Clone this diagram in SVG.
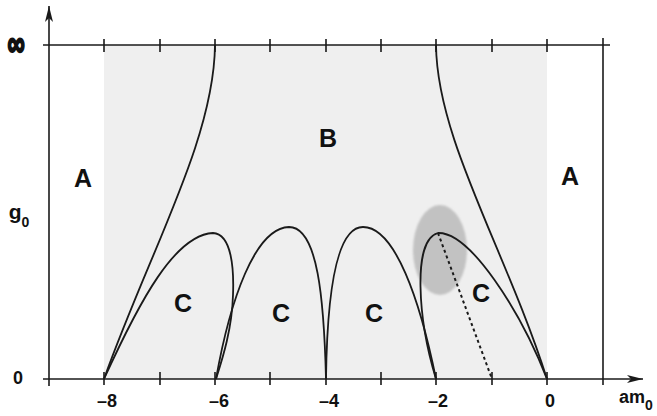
<svg xmlns="http://www.w3.org/2000/svg" width="657" height="416" viewBox="0 0 657 416">
<style>
.ax{stroke:#1a1a1a;stroke-width:1.6;fill:none}
.cv{stroke:#1a1a1a;stroke-width:1.8;fill:none}
.lb{font-family:"Liberation Sans",Arial,sans-serif;font-weight:bold;fill:#111;text-anchor:middle}
.big{font-size:25px}
.tk{font-size:18px}
</style>
<defs>
<marker id="arr" markerWidth="16" markerHeight="8" refX="16" refY="4" orient="auto" markerUnits="userSpaceOnUse">
<path d="M0,0 L16,4 L0,8 L4,4 Z" fill="#1a1a1a"/>
</marker>
<filter id="soft" x="-20%" y="-20%" width="140%" height="140%"><feGaussianBlur stdDeviation="1.2"/></filter>
</defs>
<rect width="657" height="416" fill="#ffffff"/>
<g id="regionB-bg">
<rect x="104" y="45" width="443" height="334" fill="#efefef"/>
</g>
<g id="blob">
<ellipse cx="440" cy="250" rx="27" ry="45" fill="#c2c2c2" filter="url(#soft)"/>
</g>
<g id="axes">
<line class="ax" x1="49" y1="386" x2="49" y2="6" marker-end="url(#arr)"/>
<line class="ax" x1="43" y1="379" x2="643" y2="379" marker-end="url(#arr)"/>
<line class="ax" x1="43" y1="45" x2="610" y2="45"/>
<line class="ax" x1="603" y1="38" x2="603" y2="385"/>
<path class="ax" d="M104,39V52M160,39V52M215,39V52M270,39V52M326,39V52M381,39V52M436,39V52M492,39V52M547,39V52"/>
<path class="ax" d="M104,372V385M160,372V385M215,372V385M270,372V385M326,372V385M381,372V385M436,372V385M492,372V385M547,372V385"/>
</g>
<g id="connectors">
<path class="cv" d="M215,45 C214,140 150,250 104,379"/>
<path class="cv" d="M436,45 C437,140 506,250 547,379"/>
<path class="cv" d="M104,379 C140,300 175,235 213,233 C232,234 234,270 233,295 C232,330 222,360 216,379"/>
<path class="cv" d="M216,379 C230,300 255,228 289,227 C318,227 324,300 326,379"/>
<path class="cv" d="M326,379 C327,300 335,227 363,227 C395,227 420,300 436,379"/>
<path class="cv" d="M436,379 C418,320 412,240 438,233 C470,232 520,310 547,379"/>
<line x1="438" y1="233" x2="492" y2="379" stroke="#1a1a1a" stroke-width="2" stroke-dasharray="3,3"/>
</g>
<g id="labels">
<text class="lb" font-size="22" transform="translate(16,47) scale(1.1,1.7)" x="0" y="5" stroke="#111" stroke-width="1.3">∞</text>
<text class="lb" x="19" y="219" font-size="21">g<tspan font-size="14" dy="8">0</tspan></text>
<text class="lb tk" x="18" y="384">0</text>
<text class="lb big" x="83" y="187">A</text>
<text class="lb big" x="570" y="185">A</text>
<text class="lb big" x="328" y="147">B</text>
<text class="lb big" x="183" y="312">C</text>
<text class="lb big" x="281" y="322">C</text>
<text class="lb big" x="374" y="322">C</text>
<text class="lb big" x="481" y="302">C</text>
<text class="lb tk" x="107" y="407">–8</text>
<text class="lb tk" x="219" y="407">–6</text>
<text class="lb tk" x="329" y="407">–4</text>
<text class="lb tk" x="438" y="407">–2</text>
<text class="lb tk" x="550" y="407">0</text>
<text class="lb tk" x="636" y="403">am<tspan font-size="14" dy="7">0</tspan></text>
</g>
</svg>
